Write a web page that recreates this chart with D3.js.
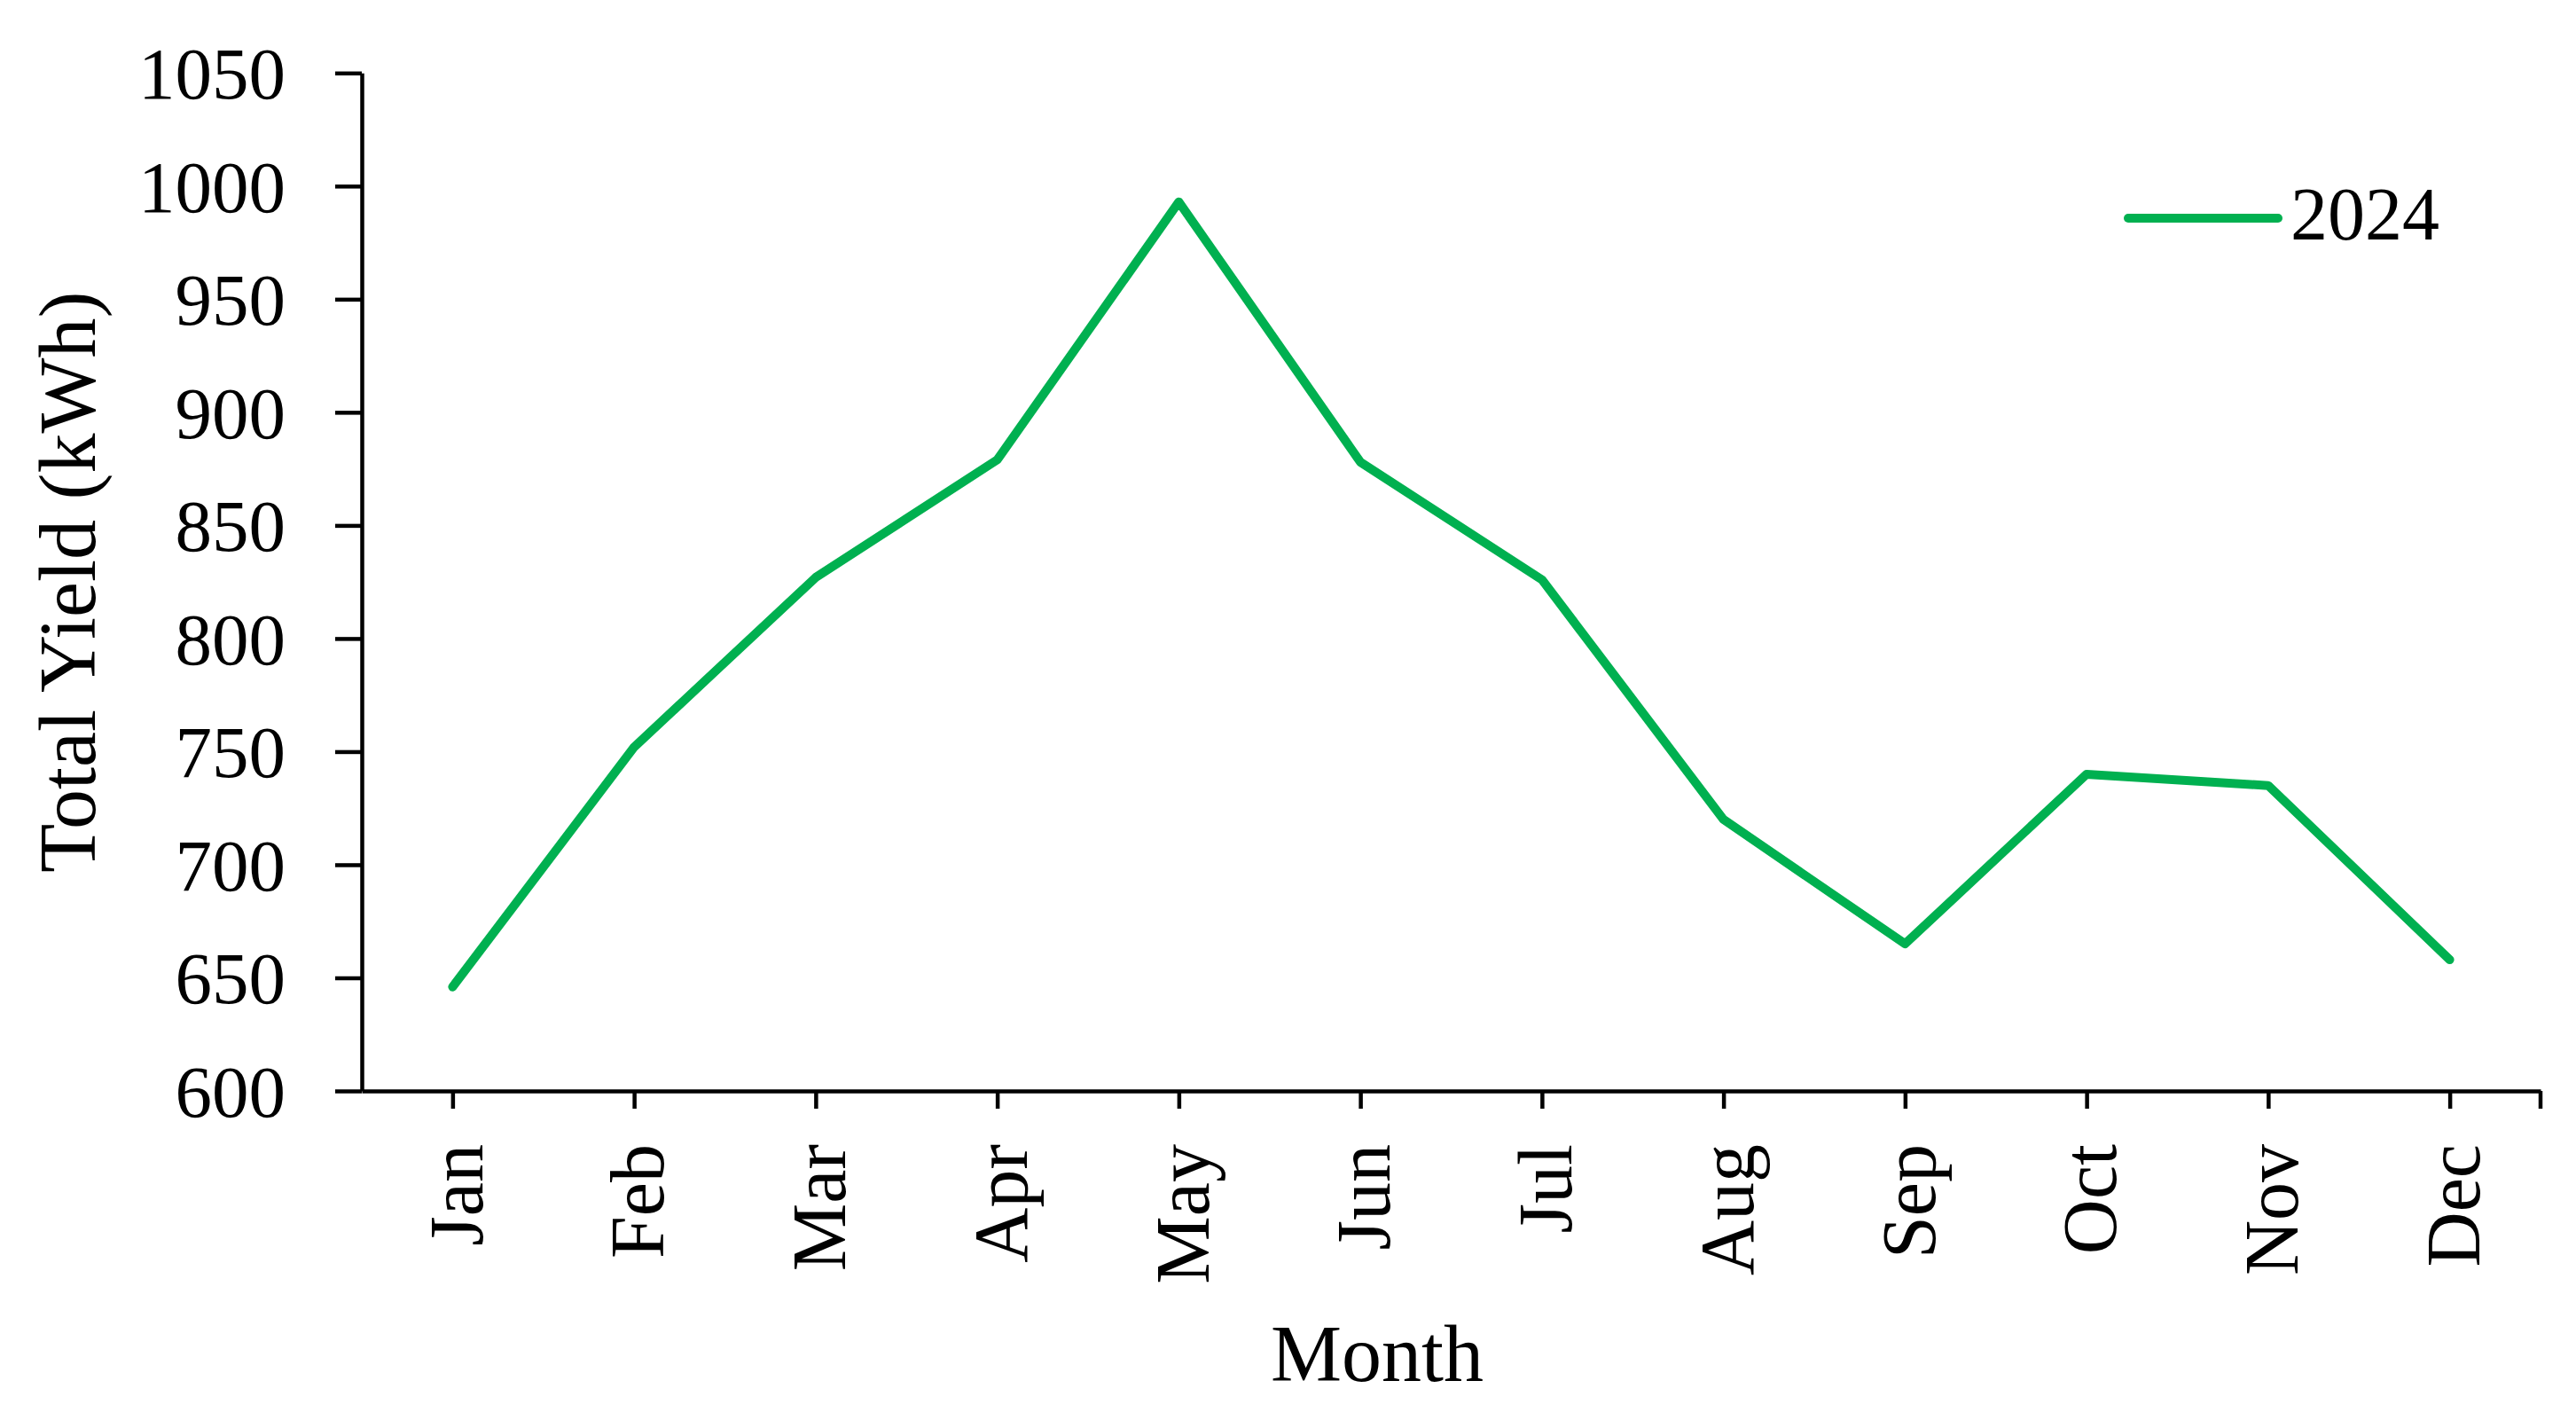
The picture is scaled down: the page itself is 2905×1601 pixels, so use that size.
<!DOCTYPE html>
<html>
<head>
<meta charset="utf-8">
<script src="https://cdn.jsdelivr.net/npm/d3@7"></script>
<style>
  html, body { margin: 0; padding: 0; background: #fff; }
  svg { display: block; }
  text { font-family: "Liberation Serif", "DejaVu Serif", serif; fill: #000; }
</style>
</head>
<body>
<svg id="chart" width="2905" height="1601"></svg>
<script>
const months = ["Jan","Feb","Mar","Apr","May","Jun","Jul","Aug","Sep","Oct","Nov","Dec"];
const yield2024 = [646, 752, 827, 879, 993, 878, 826, 720, 665, 740, 735, 658];
const yTicks = [600, 650, 700, 750, 800, 850, 900, 950, 1000, 1050];
const seriesName = "2024";
const xTitle = "Month";
const yTitle = "Total Yield (kWh)";

(function () {
const svg = d3.select("#chart");
const plotL = 408, plotR = 2865, plotT = 82.3, plotB = 1230;
const green = "#00B050";

const x = d3.scalePoint().domain(months).range([plotL, plotR]).padding(0.5);
const y = d3.scaleLinear().domain([600, 1050]).range([plotB, plotT]);

// Y axis
const yAxis = svg.append("g")
  .attr("transform", `translate(${plotL},0)`)
  .call(d3.axisLeft(y).tickValues(yTicks).tickFormat(d3.format("d"))
    .tickSize(30).tickSizeOuter(0).tickPadding(56));
yAxis.selectAll("path, line").attr("stroke", "#000").attr("stroke-width", 4.5);
yAxis.selectAll("text").attr("font-size", 83).attr("font-family", "Liberation Serif, serif").attr("dy", "0.34em");

// X axis
const xAxis = svg.append("g")
  .attr("transform", `translate(0,${plotB})`)
  .call(d3.axisBottom(x).tickSize(20).tickSizeOuter(0));
xAxis.selectAll("path, line").attr("stroke", "#000").attr("stroke-width", 4.5);
xAxis.append("line")
  .attr("x1", plotR).attr("x2", plotR).attr("y1", 0).attr("y2", 20)
  .attr("stroke", "#000").attr("stroke-width", 4.5);
xAxis.selectAll(".tick text")
  .attr("font-size", 86)
  .attr("font-family", "Liberation Serif, serif")
  .attr("text-anchor", "end")
  .attr("transform", "translate(0,60) rotate(-90)")
  .attr("x", 0).attr("y", 0).attr("dy", "0.38em");

// Line
const line = d3.line().x((d, i) => x(months[i])).y(d => y(d));
svg.append("path")
  .datum(yield2024)
  .attr("d", line)
  .attr("fill", "none")
  .attr("stroke", green)
  .attr("stroke-width", 10)
  .attr("stroke-linejoin", "round")
  .attr("stroke-linecap", "round");

// Legend
svg.append("line")
  .attr("x1", 2400).attr("x2", 2569).attr("y1", 246).attr("y2", 246)
  .attr("stroke", green).attr("stroke-width", 10).attr("stroke-linecap", "round");
svg.append("text")
  .attr("x", 2583).attr("y", 270)
  .attr("font-size", 84)
  .text(seriesName);

// Axis titles
svg.append("text")
  .attr("x", 1553).attr("y", 1557)
  .attr("text-anchor", "middle")
  .attr("font-size", 90)
  .text(xTitle);
svg.append("text")
  .attr("transform", `translate(107,${(plotT + plotB) / 2}) rotate(-90)`)
  .attr("text-anchor", "middle")
  .attr("font-size", 90)
  .text(yTitle);
})();
</script>
</body>
</html>
